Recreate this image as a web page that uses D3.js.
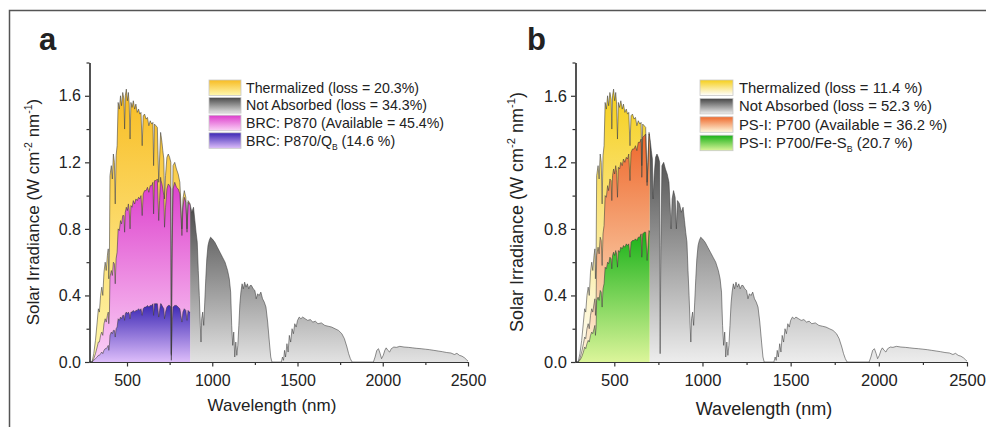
<!DOCTYPE html>
<html>
<head>
<meta charset="utf-8">
<script src="https://cdn.jsdelivr.net/npm/d3@7"></script>
<style>
body { margin: 0; background: #fff; }
svg text { font-family: "Liberation Sans", Arial, sans-serif; fill: #222; }
</style>
</head>
<body>
<svg id="chart" width="986" height="427"></svg>
<script>
// AM1.5 solar spectrum (nm, W cm-2 nm-1 as labelled)
const wavelength = [280,295,305,315,325,332,338,345,352,358,365,372,378,385,390,393,397,
    400,408,414,420,426,431,436,442,448,455,462,468,475,482,486,490,496,502,508,513,518,523,530,537,545,552,560,568,575,582,589,595,603,612,620,628,636,645,652,656,661,670,678,686,691,697,700,
    705,710,716,720,726,734,742,750,757,760,764,770,780,790,800,810,816,822,828,836,845,852,858,865,870,
    880,890,898,905,912,918,924,930,934,938,944,950,956,962,968,975,982,990,1000,1015,
    1030,1045,1060,1075,1090,1100,1108,1114,1120,1126,1132,1138,1144,1150,1156,1162,1168,1175,1182,1190,
    1198,1206,1214,1222,1230,1240,1250,1258,1266,1275,1285,1295,1305,1315,1325,1335,1343,1350,1405,1412,
    1418,1424,1430,1438,1445,1452,1460,1468,1476,1484,1492,1500,1510,1520,1530,1545,1560,1575,1590,1605,
    1620,1640,1660,1680,1700,1720,1740,1760,1775,1790,1800,1810,1820,1945,1955,1965,1975,1985,1993,2003,
    2012,2020,2030,2040,2050,2065,2080,2100,2125,2150,2175,2200,2225,2250,2275,2300,2325,2350,2375,2400,
    2420,2435,2450,2465,2480,2490,2500]

const irradiance = [0,0,0.05,0.13,0.24,0.32,0.30,0.40,0.45,0.40,0.54,0.60,0.55,0.64,0.68,0.50,0.66,
    1.12,1.18,1.10,1.25,1.20,0.95,1.24,1.30,1.56,1.52,1.60,1.54,1.62,1.58,1.40,1.60,1.64,1.57,1.62,1.55,1.34,1.56,1.53,1.57,1.52,1.55,1.50,1.52,1.49,1.50,1.30,1.48,1.49,1.46,1.47,1.42,1.45,1.43,1.44,1.18,1.43,1.42,1.41,1.08,1.22,1.38,1.36,
    1.32,1.27,1.22,0.98,1.12,1.23,1.25,1.23,1.20,0.05,0.70,1.18,1.20,1.16,1.13,1.08,0.95,0.80,0.98,1.03,0.99,0.80,0.97,0.96,0.95,
    0.90,0.93,0.85,0.78,0.72,0.55,0.40,0.22,0.12,0.26,0.30,0.22,0.36,0.50,0.62,0.70,0.73,0.75,0.74,0.72,
    0.69,0.66,0.63,0.60,0.55,0.50,0.42,0.22,0.10,0.18,0.03,0.12,0.04,0.10,0.22,0.35,0.42,0.47,0.44,0.48,
    0.45,0.47,0.44,0.46,0.46,0.44,0.43,0.38,0.41,0.40,0.42,0.38,0.36,0.33,0.24,0.12,0.03,0.00,0.00,0.03,
    0.01,0.07,0.03,0.11,0.06,0.16,0.12,0.20,0.17,0.23,0.21,0.25,0.27,0.26,0.27,0.26,0.25,0.255,0.24,0.245,
    0.23,0.235,0.22,0.215,0.21,0.20,0.19,0.17,0.14,0.09,0.05,0.02,0.00,0.00,0.03,0.07,0.08,0.05,0.02,0.04,
    0.07,0.085,0.07,0.06,0.08,0.09,0.088,0.094,0.09,0.088,0.085,0.082,0.08,0.077,0.074,0.07,0.066,0.062,0.057,0.054,
    0.045,0.052,0.04,0.035,0.025,0.015,0.005]

// panel a: absorption edge and the two usable parts (same wavelengths as above, up to 870 nm)
const edgeP870 = 870
const availableP870 = [0,0,0.02,0.05,0.09,0.12,0.12,0.16,0.18,0.16,0.23,0.26,0.24,0.28,0.30,0.23,0.30,
    0.51,0.55,0.52,0.60,0.59,0.47,0.62,0.66,0.80,0.79,0.85,0.83,0.88,0.88,0.78,0.90,0.93,0.91,0.95,0.91,0.80,0.94,0.93,0.97,0.95,0.98,0.97,0.99,0.98,1.00,0.88,1.01,1.03,1.03,1.05,1.02,1.06,1.06,1.08,0.89,1.09,1.09,1.10,0.85,0.97,1.11,1.09,
    1.07,1.04,1.00,0.81,0.93,1.04,1.07,1.06,1.04,0.04,0.61,1.04,1.08,1.05,1.04,1.01,0.89,0.76,0.93,0.99,0.96,0.78,0.96,0.95,0.95]
const storedP870QB = [0,0,0.01,0.02,0.03,0.04,0.04,0.05,0.06,0.05,0.07,0.08,0.08,0.09,0.10,0.07,0.10,
    0.16,0.18,0.17,0.19,0.19,0.15,0.20,0.21,0.26,0.25,0.27,0.26,0.28,0.28,0.25,0.29,0.30,0.29,0.30,0.29,0.26,0.30,0.30,0.31,0.30,0.31,0.31,0.32,0.31,0.32,0.28,0.32,0.33,0.33,0.34,0.33,0.34,0.34,0.35,0.28,0.35,0.35,0.35,0.27,0.31,0.35,0.35,
    0.34,0.33,0.32,0.26,0.30,0.33,0.34,0.34,0.33,0.01,0.20,0.33,0.34,0.34,0.33,0.32,0.28,0.24,0.30,0.32,0.31,0.25,0.31,0.30,0.30]

// panel b: up to 700 nm
const edgeP700 = 700
const availableP700 = [0,0,0.02,0.06,0.11,0.15,0.14,0.20,0.23,0.20,0.28,0.32,0.30,0.35,0.38,0.28,0.37,
    0.64,0.69,0.65,0.75,0.73,0.58,0.77,0.82,1.00,0.99,1.06,1.03,1.10,1.09,0.97,1.12,1.16,1.13,1.18,1.14,0.99,1.17,1.16,1.20,1.18,1.22,1.20,1.23,1.22,1.25,1.09,1.26,1.28,1.28,1.30,1.27,1.32,1.32,1.34,1.11,1.35,1.36,1.37,1.06,1.20,1.37,1.36]
const storedP700FeSB = [0,0,0.01,0.03,0.06,0.09,0.08,0.11,0.13,0.12,0.16,0.18,0.17,0.20,0.22,0.16,0.21,
    0.37,0.39,0.37,0.43,0.42,0.33,0.44,0.47,0.57,0.56,0.60,0.59,0.63,0.62,0.56,0.64,0.66,0.64,0.67,0.65,0.57,0.67,0.66,0.69,0.68,0.70,0.69,0.71,0.70,0.71,0.63,0.72,0.73,0.73,0.74,0.73,0.75,0.75,0.77,0.63,0.77,0.78,0.78,0.61,0.69,0.79,0.78]

const legendA = ['Thermalized (loss = 20.3%)', 'Not Absorbed (loss = 34.3%)', 'BRC: P870 (Available = 45.4%)', 'BRC: P870/Q_B (14.6 %)']
const legendB = ['Thermalized (loss = 11.4 %)', 'Not Absorbed (loss = 52.3 %)', 'PS-I: P700 (Available = 36.2 %)', 'PS-I: P700/Fe-S_B (20.7 %)']

const xTicks = [500, 1000, 1500, 2000, 2500]
const xMinor = [750, 1250, 1750, 2250]
const yTicks = [0, 0.4, 0.8, 1.2, 1.6]
const yMinor = [0.2, 0.6, 1.0, 1.4, 1.8]

const svg = d3.select('#chart')
const defs = svg.append('defs')

// frame around the figure (only top and left show)
svg.append('path')
    .attr('d', 'M9.5,427 V10.5 H986')
    .attr('fill', 'none')
    .attr('stroke', '#555')
    .attr('stroke-width', 1.5)

const panels = [
    {
        id: 'a', edge: edgeP870, avail: availableP870, stored: storedP870QB, legend: legendA,
        colors: { thermal: ['#f8bc22', '#fff8b0'], grey: ['#4a4a4a', '#e2e2e2'], avail: ['#dc3ccb', '#fbd2f6'], stored: ['#3a26b4', '#ddbdfa'] },
        left: 89.5, right: 468, top: 62.5, bottom: 362,
        tickFont: 16, titleFont: 17, legendFont: 14.2,
        tag: [39, 50], yTitle: [39, 212], xTitle: [272, 411],
        lx: 209, lw: 32, ly: 80, rowH: 17.6, swH: 15.5, tx: 246
    },
    {
        id: 'b', edge: edgeP700, avail: availableP700, stored: storedP700FeSB, legend: legendB,
        colors: { thermal: ['#f6cf1a', '#ffffff'], grey: ['#444444', '#ededed'], avail: ['#ee682c', '#fff9de'], stored: ['#17b117', '#dcf59a'] },
        left: 575.5, right: 967, top: 62.5, bottom: 362,
        tickFont: 16.5, titleFont: 18, legendFont: 14.8,
        tag: [527, 50], yTitle: [523, 212], xTitle: [764, 415],
        lx: 700, lw: 33, ly: 80, rowH: 18.4, swH: 15.5, tx: 739
    }
]

const addGradient = (id, [top, bottom]) => {
    const g = defs.append('linearGradient')
        .attr('id', id)
        .attr('x1', 0).attr('y1', 0).attr('x2', 0).attr('y2', 1)
    g.append('stop').attr('offset', 0).attr('stop-color', top)
    g.append('stop').attr('offset', 1).attr('stop-color', bottom)
}

const spectrum = wavelength.map((w, i) => [w, irradiance[i]])

panels.forEach(p => {
    Object.entries(p.colors).forEach(([k, c]) => addGradient(`${p.id}-${k}`, c))

    const x = d3.scaleLinear().domain([280, 2500]).range([p.left, p.right])
    const y = d3.scaleLinear().domain([0, 1.8]).range([p.bottom, p.top])
    const area = d3.area().x(d => x(d[0])).y0(y(0)).y1(d => y(d[1]))
    const line = d3.line().x(d => x(d[0])).y(d => y(d[1]))

    const absorbed = spectrum.filter(d => d[0] <= p.edge)
    const notAbsorbed = spectrum.filter(d => d[0] >= p.edge)
    const avail = absorbed.map((d, i) => [d[0], p.avail[i]])
    const stored = absorbed.map((d, i) => [d[0], p.stored[i]])

    const g = svg.append('g').attr('class', `panel-${p.id}`)

    const layers = [
        [absorbed, 'thermal'],
        [notAbsorbed, 'grey'],
        [avail, 'avail'],
        [stored, 'stored']
    ]
    g.selectAll('path.fill')
        .data(layers)
        .join('path')
        .attr('class', 'fill')
        .attr('d', d => area(d[0]))
        .attr('fill', d => `url(#${p.id}-${d[1]})`)

    // dark outlines along the tops
    g.selectAll('path.edge')
        .data([spectrum, avail, stored])
        .join('path')
        .attr('class', 'edge')
        .attr('d', d => line(d))
        .attr('fill', 'none')
        .attr('stroke', '#3c3c3c')
        .attr('stroke-opacity', 0.8)
        .attr('stroke-width', 0.7)

    // axes
    const styleAxis = sel => {
        sel.selectAll('path, line').attr('stroke', '#333').attr('stroke-width', 1.2)
        sel.selectAll('text').attr('font-size', p.tickFont).attr('fill', '#222')
            .attr('font-family', '"Liberation Sans", Arial, sans-serif')
    }
    g.append('g')
        .attr('transform', `translate(0,${p.bottom})`)
        .call(d3.axisBottom(x).tickValues(xMinor).tickSize(3).tickSizeOuter(0).tickFormat(''))
        .call(styleAxis)
    g.append('g')
        .attr('transform', `translate(0,${p.bottom})`)
        .call(d3.axisBottom(x).tickValues(xTicks).tickSize(4.5).tickSizeOuter(0).tickPadding(8).tickFormat(d3.format('d')))
        .call(styleAxis)
    g.append('g')
        .attr('transform', `translate(${p.left},0)`)
        .call(d3.axisLeft(y).tickValues(yMinor).tickSize(3).tickSizeOuter(0).tickFormat(''))
        .call(styleAxis)
    g.append('g')
        .attr('transform', `translate(${p.left},0)`)
        .call(d3.axisLeft(y).tickValues(yTicks).tickSize(4.5).tickSizeOuter(0).tickPadding(4).tickFormat(d3.format('.1f')))
        .call(styleAxis)

    // titles
    g.append('text')
        .attr('x', p.xTitle[0]).attr('y', p.xTitle[1])
        .attr('text-anchor', 'middle')
        .attr('font-size', p.titleFont)
        .text('Wavelength (nm)')

    const yt = g.append('text')
        .attr('transform', `translate(${p.yTitle[0]},${p.yTitle[1]}) rotate(-90)`)
        .attr('text-anchor', 'middle')
        .attr('font-size', p.titleFont)
    const supShift = p.titleFont * 0.42
    yt.append('tspan').text('Solar Irradiance (W cm')
    yt.append('tspan').text('-2').attr('font-size', p.titleFont * 0.62).attr('dy', -supShift)
    yt.append('tspan').text(' nm').attr('dy', supShift)
    yt.append('tspan').text('-1').attr('font-size', p.titleFont * 0.62).attr('dy', -supShift)
    yt.append('tspan').text(')').attr('dy', supShift)

    g.append('text')
        .attr('x', p.tag[0]).attr('y', p.tag[1])
        .attr('font-size', 31)
        .attr('font-weight', 'bold')
        .attr('fill', '#111')
        .text(p.id)

    // legend
    const keys = ['thermal', 'grey', 'avail', 'stored']
    const rows = g.selectAll('g.legend-row')
        .data(p.legend)
        .join('g')
        .attr('class', 'legend-row')
        .attr('transform', (d, i) => `translate(0,${p.ly + i * p.rowH})`)
    rows.append('rect')
        .attr('x', p.lx).attr('y', 0)
        .attr('width', p.lw).attr('height', p.swH)
        .attr('fill', (d, i) => `url(#${p.id}-${keys[i]})`)
        .attr('stroke', '#c8c8c8')
        .attr('stroke-width', 0.8)
    rows.append('text')
        .attr('x', p.tx)
        .attr('y', p.swH / 2 + p.legendFont * 0.36)
        .attr('font-size', p.legendFont)
        .each(function (d) {
            const t = d3.select(this)
            const parts = d.split('_B')
            t.append('tspan').text(parts[0])
            if (parts.length > 1) {
                t.append('tspan').text('B').attr('font-size', p.legendFont * 0.6).attr('dy', 4)
                t.append('tspan').text(parts[1]).attr('dy', -4)
            }
        })
})
</script>
</body>
</html>
